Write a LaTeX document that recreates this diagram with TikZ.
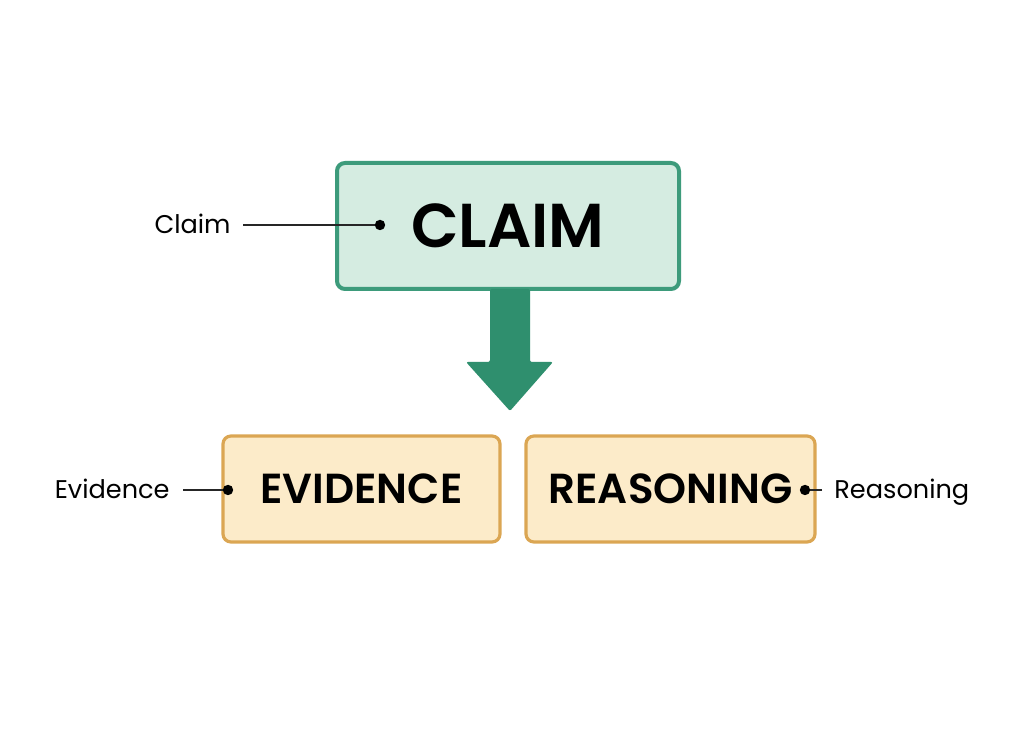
\documentclass[tikz,border=0pt]{standalone}
\usepackage{fontspec}
\setmainfont{Poppins}[BoldFont={Poppins SemiBold}]
\usepackage{xcolor}
\usepackage{tikz}
\usetikzlibrary{arrows.meta}

\definecolor{claimline}{HTML}{3D9B7B}
\definecolor{claimfill}{HTML}{D5ECE1}
\definecolor{arrowgreen}{HTML}{2F8F6E}
\definecolor{partline}{HTML}{DBA653}
\definecolor{partfill}{HTML}{FCEBC9}

\begin{document}
\begin{tikzpicture}[x=0.5pt,y=-0.5pt,
  claimbox/.style={rectangle,draw=claimline,fill=claimfill,line width=2pt,rounded corners=4pt,minimum width=171pt,minimum height=63pt,font=\fontsize{31}{33}\selectfont\bfseries},
  partbox/.style={rectangle,draw=partline,fill=partfill,line width=1.6pt,rounded corners=4pt,minimum height=53pt,font=\fontsize{21}{23}\selectfont\bfseries},
  sidelabel/.style={inner sep=0pt,text height=9pt,text depth=0pt,font=\fontsize{12.8}{15}\selectfont},
  pointer/.style={line width=0.75pt,black!85}]
  \useasboundingbox[fill=white] (0,0) rectangle (1024,747);

  \node[claimbox] (claim) at (508,226) {CLAIM};
  \node[partbox,minimum width=138.5pt] (evid) at (361.5,489) {EVIDENCE};
  \node[partbox,minimum width=144.5pt] (reas) at (670.5,489) {REASONING};

  % arrow from claim down to the two parts
  \fill[arrowgreen,rounded corners=1pt] (490,289) -- (530,289) -- (530,362) -- (553,362)
    -- (510,411) -- (466,362) -- (490,362) -- cycle;

  \coordinate (claimdot) at (380,225);
  \coordinate (evidot) at (228,490);
  \coordinate (reasdot) at (805,490);

  \node[sidelabel,anchor=east] (claimlbl) at (231,225) {Claim};
  \node[sidelabel,anchor=east] (evilbl) at (170,490) {Evidence};
  \node[sidelabel,anchor=west] (reaslbl) at (834,490) {Reasoning};

  \draw[pointer] ([xshift=6pt]claimlbl.east) -- (claimdot);
  \draw[pointer] ([xshift=6.5pt]evilbl.east) -- (evidot);
  \draw[pointer] ([xshift=-6pt]reaslbl.west) -- (reasdot);
  \foreach \d in {claimdot,evidot,reasdot}
    \fill[black] (\d) circle[radius=2.6pt];
\end{tikzpicture}
\end{document}
